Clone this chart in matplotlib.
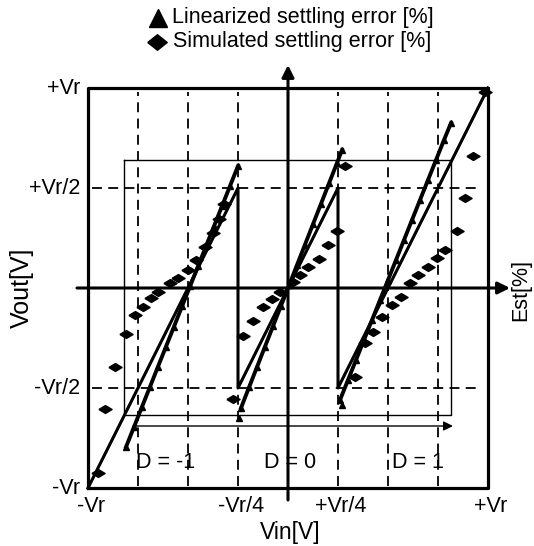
import numpy as np
import matplotlib
matplotlib.use("Agg")
import matplotlib.pyplot as plt

plt.rcParams['font.family'] = ['Liberation Sans', 'DejaVu Sans']

# ---- DATA (units of Vr) ----
# ideal residue (sawtooth) of the 1.5-bit stage
saw_x = [-1.0, -0.25, -0.25, 0.25, 0.25, 1.0]
saw_y = [-1.0, 0.5, -0.5, 0.5, -0.5, 1.0]

# linearized settling error, one list per D region
lin_x_m1 = [-0.81, -0.77, -0.73, -0.69, -0.65, -0.61, -0.57, -0.53,
            -0.49, -0.45, -0.41, -0.37, -0.33, -0.29, -0.25]
lin_y_m1 = [-0.795, -0.695, -0.594, -0.494, -0.393, -0.293, -0.193, -0.092,
            0.008, 0.108, 0.209, 0.309, 0.409, 0.510, 0.61]
lin_x_0 = [-0.235, -0.195, -0.155, -0.115, -0.075, -0.035, 0.005, 0.045,
           0.085, 0.125, 0.165, 0.205, 0.245, 0.27]
lin_y_0 = [-0.60, -0.497, -0.395, -0.293, -0.191, -0.089, 0.013, 0.115,
           0.217, 0.319, 0.421, 0.523, 0.625, 0.69]
lin_x_p1 = [0.26, 0.30, 0.34, 0.38, 0.42, 0.46, 0.50, 0.54,
            0.58, 0.62, 0.66, 0.70, 0.74, 0.78, 0.815]
lin_y_p1 = [-0.56, -0.46, -0.36, -0.26, -0.16, -0.06, 0.04, 0.14,
            0.24, 0.34, 0.44, 0.54, 0.64, 0.74, 0.825]
lin_stray_x = [-0.245, 0.27]
lin_stray_y = [-0.65, -0.585]

# simulated settling error
sim_x = [-0.95, -0.915, -0.865, -0.81, -0.765, -0.725, -0.685, -0.65,
         -0.59, -0.55, -0.50, -0.46, -0.415, -0.375, -0.345, -0.32,
         -0.275, -0.225, -0.175, -0.125, -0.08, -0.04, 0.025, 0.06,
         0.10, 0.155, 0.20, 0.245, 0.285,
         0.335, 0.385, 0.425, 0.47, 0.52, 0.565, 0.61, 0.65,
         0.70, 0.745, 0.785, 0.845, 0.885, 0.925, 0.985]
sim_y = [-0.925, -0.605, -0.395, -0.23, -0.135, -0.095, -0.05, -0.02,
         0.025, 0.05, 0.09, 0.14, 0.205, 0.275, 0.345, 0.42,
         -0.555, -0.24, -0.165, -0.095, -0.055, -0.02, 0.03, 0.065,
         0.105, 0.145, 0.215, 0.285, 0.61,
         -0.445, -0.275, -0.22, -0.145, -0.085, -0.045, 0.025, 0.065,
         0.105, 0.15, 0.19, 0.285, 0.45, 0.66, 0.98]

ticks = [-1.0, -0.25, 0.25, 1.0]
xtick_labels = ["-Vr", "-Vr/4", "+Vr/4", "+Vr"]
yticks = [1.0, 0.5, -0.5, -1.0]
ytick_labels = ["+Vr", "+Vr/2", "-Vr/2", "-Vr"]
regions = ["D = -1", "D = 0", "D = 1"]
region_x = [-0.61, 0.0125, 0.65]

# ---- FIGURE ----
fig = plt.figure(figsize=(5.34, 5.46), dpi=100)
ax = fig.add_axes([0, 0, 1, 1])
ax.set_xlim(-1.44, 1.23)
ax.set_ylim(-1.29, 1.44)
ax.axis("off")

# dashed grid
for xv in [-0.75, -0.5, -0.25, 0.25, 0.5, 0.75]:
    ax.plot([xv, xv], [-0.99, 0.98], color="black", lw=1.3, ls=(0, (5.5, 3.5)))
for yv in [0.5, -0.5]:
    ax.plot([-0.98, 0.97], [yv, yv], color="black", lw=1.3, ls=(0, (5.5, 3.5)))

# thin Est frame and arrow
ax.plot([-0.82, 0.815, 0.815, -0.82, -0.82], [0.64, 0.64, -0.635, -0.635, 0.64],
        color="black", lw=1.0)
ax.annotate("", xy=(0.825, -0.69), xytext=(-0.775, -0.69),
            arrowprops=dict(arrowstyle="-|>", color="black", lw=1.0,
                            mutation_scale=14, shrinkA=0, shrinkB=0))

# outer box
ax.plot([-1, 1, 1, -1, -1], [-1, -1, 1, 1, -1], color="black", lw=2.3)

# main axes
ax.annotate("", xy=(1.11, 0), xytext=(-1.055, 0),
            arrowprops=dict(arrowstyle="-|>", color="black", lw=2.2,
                            mutation_scale=18, shrinkA=0, shrinkB=0))
ax.annotate("", xy=(0, 1.115), xytext=(0, -1.06),
            arrowprops=dict(arrowstyle="-|>", color="black", lw=2.2,
                            mutation_scale=18, shrinkA=0, shrinkB=0))

# sawtooth
ax.plot(saw_x, saw_y, color="black", lw=2.2)

# linearized settling error (dense triangles)
for lx, ly in [(lin_x_m1, lin_y_m1), (lin_x_0, lin_y_0), (lin_x_p1, lin_y_p1)]:
    ax.plot(lx, ly, color="black", lw=2.8)
    ax.plot(lx, ly, ls="none", marker="^", ms=4.5, color="black")
ax.plot(lin_stray_x, lin_stray_y, ls="none", marker="^", ms=4, color="black")

# simulated settling error (flat diamonds)
diamond = [(-1, 0), (0, 0.6), (1, 0), (0, -0.6), (-1, 0)]
ax.plot(sim_x, sim_y, ls="none", marker=diamond, ms=9.5, color="black")

# labels
fs = 15.5
for xv, lab in zip(ticks, xtick_labels):
    ax.text(xv + 0.015, -1.09, lab, ha="center", va="center", fontsize=fs)
for yv, lab in zip(yticks, ytick_labels):
    ax.text(-1.04, yv, lab, ha="right", va="center", fontsize=fs)
for xv, lab in zip(region_x, regions):
    ax.text(xv, -0.87, lab, ha="center", va="center", fontsize=fs)

ax.text(0.01, -1.225, "Vin[V]", ha="center", va="center", fontsize=16.5)
ax.text(-1.33, 0.0, "Vout[V]", ha="center", va="center", rotation=90, fontsize=18)
ax.text(1.165, -0.01, "Est[%]", ha="center", va="center", rotation=90, fontsize=15.5)

# legend at the top
legend_diamond = [(-1, 0), (0, 0.8), (1, 0), (0, -0.8), (-1, 0)]
ax.plot([-0.65], [1.35], ls="none", marker="^", ms=13, color="black", clip_on=False)
ax.plot([-0.655], [1.228], ls="none", marker=legend_diamond, ms=14, color="black",
        clip_on=False)
ax.text(-0.58, 1.355, "Linearized settling error [%]", ha="left", va="center",
        fontsize=fs)
ax.text(-0.575, 1.23, "Simulated settling error [%]", ha="left", va="center",
        fontsize=fs)

fig.savefig("out.png", dpi=100)
